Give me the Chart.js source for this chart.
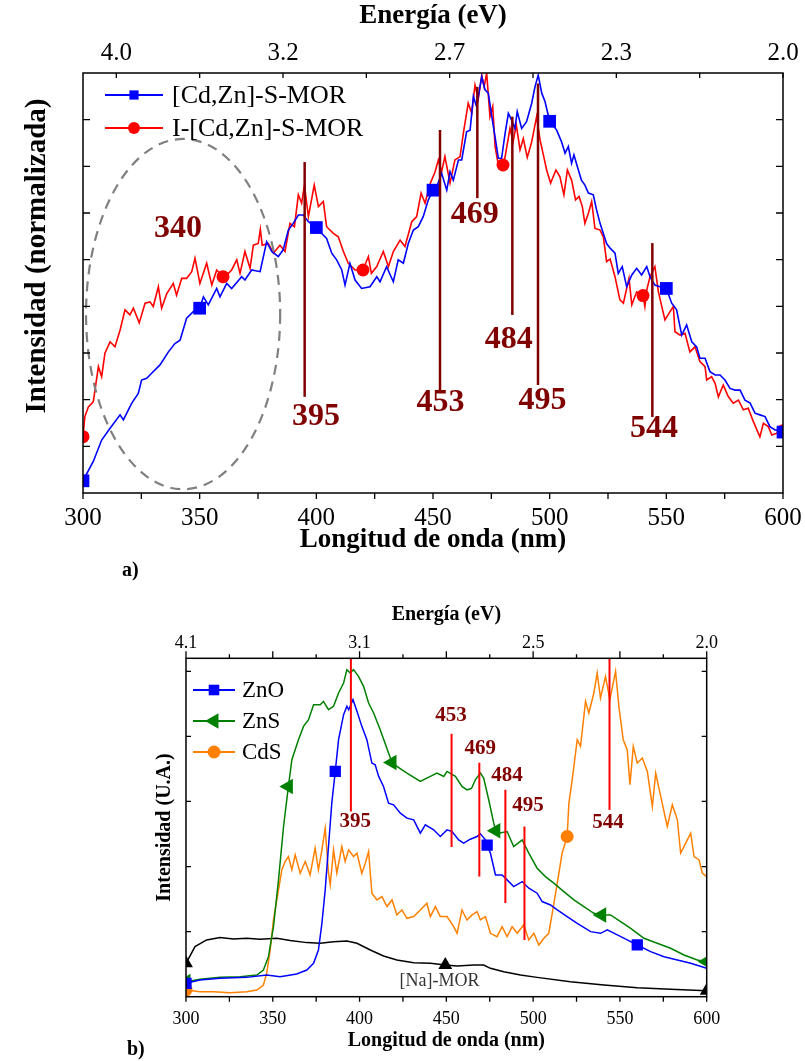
<!DOCTYPE html>
<html lang="es">
<head>
<meta charset="UTF-8">
<title>Fotoluminiscencia</title>
<script src="https://cdn.jsdelivr.net/npm/chart.js@4.4.1/dist/chart.umd.min.js"></script>
<style>
  body { margin:0; background:#fff; width:805px; height:1061px; position:relative; overflow:hidden;
         font-family:'Liberation Serif','Times New Roman',serif; }
  canvas { position:absolute; left:0; }
  #chartA { top:0; }
  #chartB { top:590px; }
  .tag { position:absolute; font-weight:bold; font-size:20px; color:#000; }
</style>
</head>
<body>
<canvas id="chartA" width="805" height="560"></canvas>
<canvas id="chartB" width="805" height="465"></canvas>
<div class="tag" style="left:122px;top:558px">a)</div>
<div class="tag" style="left:127px;top:1037px">b)</div>
<script>
const SERIF = "'Liberation Serif', 'Times New Roman', serif";

// ---------- panel a: [Cd,Zn]-S-MOR vs I-[Cd,Zn]-S-MOR ----------
const aBlueNm = [300,304.4,308,311.6,315.9,317.3,320.9,323.7,325.1,327.3,329.4,333,336.6,339.4,341.6,344.4,348,350,351.6,353.7,357.3,358.7,361.6,363.7,368,369.4,372.3,375.9,378.7,380.9,383.7,385.8,388,390.1,392.3,394.4,396.6,400,402.3,404.4,406.6,408.7,410.9,412.3,414.4,416.6,419.4,423,425.9,427.3,430.1,433,435.1,437.3,439.4,441.6,443.7,445.8,448,450,451.6,453.7,455.9,457.3,458.7,460.9,462.3,464.4,465.9,467.3,468.7,469.9,470.9,472.3,473.7,475.2,476.6,478,479.4,480.9,482.3,483.7,485.1,486.1,488,490.1,492.3,493.7,495.1,496.6,498,500,503,505.1,506.6,508,509.4,510.4,512.3,513.6,515.1,516.6,518.7,520.1,521.6,523,524.4,525.9,528,529.4,531.1,533,535.2,537.3,539.4,541.6,543,545.1,547.3,550,552.3,554.4,556.6,558.7,560.9,563,564.4,566.6,568.7,570.9,573,575.1,577.3,579.4,581.6,583.7,585.9,588,590.1,592.3,594.4,596.6,598.7,600];
const aBlueVal = [0.029,0.075,0.126,0.154,0.186,0.174,0.214,0.237,0.269,0.273,0.285,0.305,0.336,0.356,0.364,0.416,0.436,0.44,0.467,0.448,0.487,0.467,0.499,0.487,0.515,0.507,0.531,0.527,0.598,0.575,0.563,0.579,0.626,0.642,0.662,0.662,0.646,0.632,0.618,0.606,0.571,0.555,0.531,0.495,0.547,0.507,0.487,0.491,0.515,0.503,0.539,0.503,0.555,0.547,0.594,0.626,0.634,0.658,0.698,0.721,0.729,0.761,0.721,0.765,0.745,0.793,0.793,0.86,0.864,0.944,0.92,0.96,0.991,0.96,0.952,0.896,0.848,0.797,0.797,0.856,0.904,0.888,0.868,0.908,0.868,0.884,0.928,0.967,0.995,0.952,0.932,0.885,0.864,0.836,0.809,0.825,0.785,0.805,0.769,0.745,0.733,0.714,0.71,0.674,0.642,0.618,0.594,0.583,0.571,0.523,0.539,0.491,0.519,0.535,0.519,0.539,0.515,0.495,0.491,0.487,0.452,0.436,0.376,0.4,0.36,0.348,0.321,0.321,0.289,0.281,0.281,0.269,0.249,0.245,0.245,0.221,0.214,0.19,0.186,0.182,0.158,0.15,0.15,0.145];
const aRedNm = [300,300.8,302.3,304.4,306.6,308,309.4,311.6,313.7,315.9,318,320.1,321.6,324.1,326.6,328.7,330.1,332.3,333.7,335.9,338.7,340.1,342.3,344.4,346.6,348,350.1,353,355.2,357.3,360,361.6,363.7,365.9,367.3,369.4,371.6,373,375.1,376,376.8,379.4,381.6,384.4,386.6,388.7,390.6,392.3,393.7,394.9,396.6,399.1,400.9,403,404.4,407.3,409.4,411.6,413.7,416.6,420,422.3,423.6,425.9,428.7,430.9,433,435.9,438,440.9,443,444.9,446.6,448.7,450.9,452.3,453.7,455.1,457.3,459.4,461.6,463,465.1,466.6,468,469.4,470.9,471.9,473,474.4,475.6,476.6,478,480,480.9,483,484.3,485.7,487.3,488.7,490.4,492.3,494.4,495.9,497.3,498.7,500.4,502.7,504.4,506.1,507.6,509.4,511.1,512.6,514,515.1,516.6,518,519.4,521.6,523,524.4,525.9,528,530.1,531.6,533,534,535.2,537.3,540,540.8,541.6,543,545.1,546.6,549.4,551.6,553,553.7,555.9,558,560.1,562.3,564.4,566.6,567.3,569.4,570.9,572.3,574.4,576.6,578.7,580.9,583,585.1,587.3,590.1,591.6,593.7,595.2,597.3,600];
const aRedVal = [0.134,0.182,0.205,0.217,0.301,0.277,0.333,0.36,0.348,0.388,0.436,0.424,0.44,0.405,0.452,0.455,0.444,0.491,0.44,0.475,0.499,0.471,0.511,0.511,0.527,0.559,0.499,0.547,0.495,0.531,0.515,0.519,0.531,0.555,0.523,0.575,0.535,0.59,0.594,0.628,0.59,0.594,0.571,0.59,0.575,0.642,0.634,0.71,0.69,0.733,0.658,0.733,0.682,0.694,0.634,0.618,0.61,0.575,0.547,0.531,0.531,0.563,0.523,0.539,0.575,0.539,0.575,0.602,0.587,0.646,0.658,0.714,0.69,0.735,0.765,0.793,0.765,0.801,0.738,0.793,0.801,0.856,0.928,0.904,0.971,0.938,0.995,0.967,1.0,0.896,0.92,0.825,0.781,0.781,0.801,0.868,0.836,0.876,0.817,0.844,0.799,0.836,0.896,0.84,0.805,0.769,0.738,0.769,0.753,0.71,0.769,0.745,0.698,0.706,0.682,0.642,0.666,0.694,0.63,0.626,0.61,0.551,0.557,0.515,0.46,0.452,0.487,0.511,0.448,0.479,0.47,0.444,0.483,0.515,0.539,0.479,0.412,0.432,0.444,0.384,0.376,0.38,0.336,0.348,0.313,0.301,0.269,0.277,0.261,0.229,0.257,0.229,0.214,0.221,0.198,0.202,0.17,0.134,0.166,0.158,0.138,0.142,0.148];
const aBlueMarks = [300,350,400,450,500,550,600];
const aRedMarks = [300,360,420,480,540,600];
const aEnergyPos = [0,1,2,3,4,5,6,7,8];
const aEnergyLabels = ['4.0','','3.2','','2.7','','2.3','','2.0'];
const aPeakNm = [395,453,469,484,495,544];
const aPeakTop = [0.788,0.864,0.967,0.896,0.975,0.595];
const aPeakBottom = [0.229,0.245,0.702,0.424,0.257,0.181];
const aLabelText = ['340','395','453','469','484','495','544'];
const aLabelNm = [340.7,399.9,453.2,467.9,482.5,496.9,544.7];
const aLabelVal = [0.629,0.182,0.214,0.662,0.364,0.219,0.153];

// ---------- panel b: ZnO, ZnS, CdS, [Na]-MOR ----------
const bZnONm = [300,308,319.6,335,346.5,354.2,363.8,369.6,373.5,376.3,378.3,380.2,382.1,384,386,387.9,390.8,392.7,393.7,396.2,398.5,401.3,404.2,407.1,409,411,413.8,416.7,419.6,423.5,427.3,431.2,435,437.9,442.7,446.5,450.4,453.3,457.1,460,463.8,467.7,469.6,472.5,473.5,475.4,478.3,482.1,485,488.8,493.7,497.5,502.3,505.2,510,513.9,519.6,525.4,533.1,538.9,542.7,548.5,554.2,560,567.7,575.4,583.1,590.8,600];
const bZnOVal = [0.205,0.256,0.282,0.297,0.333,0.308,0.349,0.41,0.513,0.718,1.128,1.641,2.308,2.974,3.462,3.949,4.333,4.462,4.41,4.564,4.385,4.154,3.949,3.59,3.564,3.385,3.231,2.974,2.949,2.821,2.744,2.718,2.513,2.641,2.564,2.462,2.564,2.538,2.41,2.359,2.42,2.462,2.503,2.41,2.33,2.205,1.872,1.872,1.795,1.692,1.769,1.667,1.59,1.462,1.41,1.333,1.231,1.128,1.0,0.974,1.026,0.949,0.872,0.795,0.692,0.615,0.564,0.513,0.436];
const bZnSNm = [300,308,319.6,331.2,340.8,344.6,347.5,350.4,353.3,356.2,359,361,362.9,364.8,367.7,370.6,373.5,377.3,379.2,382.1,385,387.9,390.8,392.7,394.6,396.5,399.4,402.3,405.2,408.1,411.9,416.7,418.7,421.5,427.3,435,440.8,444.6,448.5,450.4,455.2,459,461.9,464.5,466.7,469.6,471.5,474.4,477.3,478.5,480.2,485,488.8,493.7,497.5,502.3,507.1,511.9,517.7,523.5,529.2,535,539.5,544.6,550.4,556.2,563.9,571.5,579.2,586.9,594.6,600];
const bZnSVal = [0.231,0.267,0.297,0.308,0.333,0.41,0.615,1.077,1.795,2.615,3.231,3.641,3.795,3.949,4.154,4.256,4.487,4.487,4.538,4.41,4.462,4.667,4.821,5.026,4.974,5.026,4.923,4.769,4.513,4.359,4.103,3.744,3.6,3.538,3.436,3.308,3.385,3.436,3.385,3.462,3.385,3.231,3.179,3.2,3.333,3.436,3.359,3.026,2.667,2.55,2.513,2.538,2.308,2.41,2.205,1.974,1.846,1.744,1.615,1.487,1.385,1.282,1.256,1.256,1.154,1.051,0.897,0.821,0.744,0.641,0.564,0.538];
const bCdSNm = [300,308,315.8,325.4,335,340.8,344.6,346.5,348.5,350.4,353.3,355.2,357.1,359,361,362.9,365.8,368.7,371.5,374.4,376.3,378.3,380.2,382.1,383.1,385,386.9,389.8,391.7,393.7,396.5,398.5,401.3,403.3,405.2,407.1,410,412.9,415.8,418.7,421.5,424.4,427.3,431.2,435,438.8,440.8,443.7,446.5,450.4,454.2,456.2,459,461.9,464.5,467.7,469.6,472.5,475.4,479.2,482.1,485,487.9,490.8,494.6,497.5,500.4,503.3,506.2,509,511,513.9,516.7,519.6,520.6,522.5,525.4,527.3,530.2,532.1,535,536.9,538.8,541.7,544.2,547.5,549.4,551.9,554.2,555.8,557.7,560,562.9,565.8,568.7,570.6,573.5,577.3,580.2,583.1,585,587.9,590.8,592.7,595.6,597.5,600];
const bCdSVal = [0.103,0.077,0.077,0.062,0.077,0.103,0.179,0.359,0.718,1.179,1.641,1.949,2.077,2.154,1.949,2.179,1.897,2.077,1.872,2.282,1.949,2.256,2.59,1.897,1.718,2.256,1.897,2.308,2.077,2.256,2.154,2.205,1.897,2.051,2.231,1.59,1.487,1.538,1.385,1.487,1.256,1.333,1.205,1.231,1.333,1.436,1.231,1.385,1.231,1.231,1.077,0.974,1.333,1.179,1.25,1.308,1.179,1.231,0.974,0.923,1.077,0.923,1.077,0.974,1.103,0.872,0.974,0.795,0.897,0.974,1.282,1.744,2.205,2.462,2.974,3.333,3.949,3.846,4.538,4.359,4.667,4.974,4.59,4.923,4.564,5.0,4.462,3.949,3.795,3.256,3.846,3.59,3.667,3.462,2.923,3.436,3.077,2.615,2.949,2.718,2.205,2.359,2.513,2.154,2.103,1.897,1.846];
const bNaNm = [300,305.2,311.9,319.6,327.3,335,342.7,352.3,360,369.6,377.3,385,392.7,398.5,406.2,413.8,421.5,431.2,440.8,449.4,456.2,465.8,471.5,475.4,483.1,492.7,502.3,521.5,540.8,560,579.2,600];
const bNaVal = [0.513,0.769,0.872,0.908,0.887,0.897,0.882,0.897,0.862,0.831,0.821,0.846,0.856,0.821,0.718,0.626,0.564,0.523,0.513,0.487,0.472,0.487,0.487,0.436,0.385,0.333,0.297,0.231,0.179,0.138,0.113,0.09];
const bZnOMarks = [300,386,473.5,560];
const bZnSMarks = [300,359,418.7,478.5,539.5,600];
const bCdSMarks = [300,519.6];
const bNaMarks = [300,449.4,600];
const bEnergyNm = [300,400,500,600];
const bEnergyLabels = ['4.1','3.1','2.5','2.0'];
const bPeakNm = [395,453,469,484,495,544];
const bPeakTop = [5.2,4.04,3.595,3.18,2.615,5.2];
const bPeakBottom = [2.846,2.30,1.846,1.44,0.872,2.87];
const bLabelText = ['395','453','469','484','495','544'];
const bLabelNm = [397.5,452.7,469.6,485,497,543.2];
const bLabelVal = [2.69,4.32,3.81,3.40,2.94,2.68];

function pts(nm, val) { return nm.map((v, i) => ({x: v, y: val[i]})); }

function mark(ctx, style, x, y, r, rot) {
  ctx.beginPath();
  if (style === 'rect') {
    const s = r * Math.SQRT1_2;
    ctx.rect(x - s, y - s, 2 * s, 2 * s);
  } else if (style === 'circle') {
    ctx.arc(x, y, r, 0, Math.PI * 2);
  } else {
    let a = (rot || 0) * Math.PI / 180;
    for (let k = 0; k < 3; k++) {
      const px = x + Math.sin(a) * r, py = y - Math.cos(a) * r;
      k === 0 ? ctx.moveTo(px, py) : ctx.lineTo(px, py);
      a += Math.PI * 2 / 3;
    }
    ctx.closePath();
  }
  ctx.fill();
}

// frame, tick marks, peak lines, labels and legend
function makeDecor(o) {
  return {
    id: 'decor',
    afterDatasetsDraw(chart) {
      const ctx = chart.ctx, ca = chart.chartArea;
      const xs = chart.scales.x, ys = chart.scales.y;
      ctx.save();
      if (o.ellipse) {
        const e = o.ellipse;
        const cx = xs.getPixelForValue(e.nm), cy = ys.getPixelForValue(e.val);
        const rx = xs.getPixelForValue(e.nm + e.dnm) - cx, ry = cy - ys.getPixelForValue(e.val + e.dval);
        ctx.strokeStyle = '#808080'; ctx.lineWidth = 2.2; ctx.setLineDash([10, 7]);
        ctx.beginPath(); ctx.ellipse(cx, cy, rx, ry, 0, 0, Math.PI * 2); ctx.stroke();
        ctx.setLineDash([]);
      }
      ctx.strokeStyle = o.lineColor; ctx.lineWidth = o.lineWidth;
      o.peaks.forEach((p, i) => {
        const px = xs.getPixelForValue(p);
        ctx.beginPath();
        ctx.moveTo(px, Math.max(ys.getPixelForValue(o.top[i]), ca.top));
        ctx.lineTo(px, ys.getPixelForValue(o.bottom[i]));
        ctx.stroke();
      });
      ctx.fillStyle = '#800000'; ctx.font = o.labelFont;
      ctx.textAlign = 'center'; ctx.textBaseline = 'middle';
      o.labels.forEach((t, i) => ctx.fillText(t, xs.getPixelForValue(o.labelNm[i]), ys.getPixelForValue(o.labelVal[i])));
      (o.notes || []).forEach(n => {
        ctx.fillStyle = n.color; ctx.font = n.font;
        ctx.fillText(n.text, xs.getPixelForValue(n.nm), ys.getPixelForValue(n.val));
      });

      // y title drawn here when it sits off the axis centre
      if (o.yTitle) {
        const t = o.yTitle;
        ctx.save();
        ctx.translate(t.x, t.y); ctx.rotate(-Math.PI / 2);
        ctx.fillStyle = '#000'; ctx.font = t.font;
        ctx.fillText(t.text, 0, 0);
        ctx.restore();
      }

      // frame
      ctx.strokeStyle = '#000'; ctx.lineWidth = 1.5;
      ctx.strokeRect(ca.left, ca.top, ca.right - ca.left, ca.bottom - ca.top);
      ctx.lineWidth = 1.3;
      ctx.beginPath();
      o.bottomTicks.forEach(v => {
        const px = xs.getPixelForValue(v);
        ctx.moveTo(px, ca.bottom); ctx.lineTo(px, ca.bottom + o.bottomLen);
      });
      const ts = chart.scales.x2;
      o.topTicks.forEach((v, i) => {
        const px = ts.getPixelForValue(v);
        const len = o.topLen[i % o.topLen.length];
        ctx.moveTo(px, ca.top); ctx.lineTo(px, ca.top + (o.topIn ? len : -len));
      });
      o.yTicks.forEach(v => {
        const py = ys.getPixelForValue(v);
        ctx.moveTo(ca.left, py); ctx.lineTo(ca.left + o.yLen, py);
        ctx.moveTo(ca.right, py); ctx.lineTo(ca.right - o.yLen, py);
      });
      ctx.stroke();

      // legend
      const L = o.legend;
      ctx.font = L.font; ctx.textAlign = 'left'; ctx.textBaseline = 'middle';
      L.items.forEach(it => {
        ctx.strokeStyle = it.color; ctx.fillStyle = it.color; ctx.lineWidth = 1.8;
        ctx.beginPath(); ctx.moveTo(L.x0, it.y); ctx.lineTo(L.x1, it.y); ctx.stroke();
        mark(ctx, it.style, (L.x0 + L.x1) / 2, it.y, it.r, it.rot);
        ctx.fillStyle = '#000';
        ctx.fillText(it.text, L.tx, it.y + 1);
      });
      ctx.restore();
    }
  };
}

function markRadius(nm, marks, r) {
  return c => marks.includes(nm[c.dataIndex]) ? r : 0;
}

// keep edge labels from shrinking the plot area
function fixX(h) {
  return s => { s.height = h; s.paddingLeft = 0; s.paddingRight = 0; };
}

const ticks25 = [];
for (let v = 300; v <= 600; v += 25) ticks25.push(v);

// ----- chart a -----
new Chart(document.getElementById('chartA'), {
  type: 'line',
  data: {
    datasets: [
      { label: '[Cd,Zn]-S-MOR', data: pts(aBlueNm, aBlueVal), borderColor: '#0000ff', backgroundColor: '#0000ff',
        borderWidth: 1.6, tension: 0, pointStyle: 'rect', pointBorderWidth: 0,
        pointRadius: markRadius(aBlueNm, aBlueMarks, 9) },
      { label: 'I-[Cd,Zn]-S-MOR', data: pts(aRedNm, aRedVal), borderColor: '#ff0000', backgroundColor: '#ff0000',
        borderWidth: 1.6, tension: 0, pointStyle: 'circle', pointBorderWidth: 0,
        pointRadius: markRadius(aRedNm, aRedMarks, 6.5) }
    ]
  },
  options: {
    responsive: false, animation: false, devicePixelRatio: 1,
    layout: { padding: { left: 0, right: 22, top: 0, bottom: 0 } },
    plugins: { legend: { display: false }, tooltip: { enabled: false } },
    scales: {
      x: {
        type: 'linear', position: 'bottom', min: 300, max: 600,
        afterFit: fixX(67),
        grid: { display: false, drawTicks: false }, border: { display: false },
        ticks: { stepSize: 50, autoSkip: false, maxRotation: 0, padding: 10, color: '#000',
                 font: { family: SERIF, size: 25 } },
        title: { display: true, text: 'Longitud de onda (nm)', color: '#000',
                 font: { family: SERIF, size: 27, weight: 'bold' }, padding: { top: 0, bottom: 4 } }
      },
      x2: {
        type: 'linear', position: 'top', min: -0.4, max: 8,
        afterFit: fixX(73),
        afterBuildTicks: s => { s.ticks = aEnergyPos.map(v => ({ value: v })); },
        grid: { display: false, drawTicks: false }, border: { display: false },
        ticks: { autoSkip: false, maxRotation: 0, padding: 5, color: '#000',
                 font: { family: SERIF, size: 25 },
                 callback: v => aEnergyLabels[aEnergyPos.indexOf(v)] },
        title: { display: true, text: 'Energía (eV)', color: '#000',
                 font: { family: SERIF, size: 27, weight: 'bold' }, padding: { top: 0, bottom: 0 } }
      },
      y: {
        min: 0, max: 1,
        afterFit: s => { s.width = 83; },
        grid: { display: false, drawTicks: false }, border: { display: false },
        ticks: { display: false },
        title: { display: false }
      }
    }
  },
  plugins: [makeDecor({
    ellipse: { nm: 342.9, val: 0.426, dnm: 41.6, dval: 0.417 },
    peaks: aPeakNm, top: aPeakTop, bottom: aPeakBottom, lineColor: '#800000', lineWidth: 2.5,
    labels: aLabelText, labelNm: aLabelNm, labelVal: aLabelVal, labelFont: 'bold 32px ' + SERIF,
    yTitle: { text: 'Intensidad (normalizada)', x: 38, y: 256, font: 'bold 29px ' + SERIF },
    bottomTicks: ticks25, bottomLen: 6,
    topTicks: aEnergyPos, topLen: [5], topIn: true,
    yTicks: [1/9, 2/9, 3/9, 4/9, 5/9, 6/9, 7/9, 8/9], yLen: 7,
    legend: {
      font: '26px ' + SERIF, x0: 105, x1: 163, tx: 172,
      items: [
        { text: '[Cd,Zn]-S-MOR', color: '#0000ff', style: 'rect', r: 6.5, y: 95 },
        { text: 'I-[Cd,Zn]-S-MOR', color: '#ff0000', style: 'circle', r: 6, y: 128 }
      ]
    }
  })]
});

// ----- chart b -----
new Chart(document.getElementById('chartB'), {
  type: 'line',
  data: {
    datasets: [
      { label: 'ZnO', data: pts(bZnONm, bZnOVal), borderColor: '#0000ff', backgroundColor: '#0000ff',
        borderWidth: 1.5, tension: 0, pointStyle: 'rect', pointBorderWidth: 0,
        pointRadius: markRadius(bZnONm, bZnOMarks, 8) },
      { label: 'ZnS', data: pts(bZnSNm, bZnSVal), borderColor: '#008000', backgroundColor: '#008000',
        borderWidth: 1.5, tension: 0, pointStyle: 'triangle', pointRotation: -90, pointBorderWidth: 0,
        pointRadius: markRadius(bZnSNm, bZnSMarks, 9) },
      { label: 'CdS', data: pts(bCdSNm, bCdSVal), borderColor: '#ff8000', backgroundColor: '#ff8000',
        borderWidth: 1.5, tension: 0, pointStyle: 'circle', pointBorderWidth: 0,
        pointRadius: markRadius(bCdSNm, bCdSMarks, 6.5) },
      { label: '[Na]-MOR', data: pts(bNaNm, bNaVal), borderColor: '#000000', backgroundColor: '#000000',
        borderWidth: 1.5, tension: 0, pointStyle: 'triangle', pointBorderWidth: 0,
        pointRadius: markRadius(bNaNm, bNaMarks, 8) }
    ]
  },
  options: {
    responsive: false, animation: false, devicePixelRatio: 1,
    layout: { padding: { left: 0, right: 98.3, top: 0, bottom: 0 } },
    plugins: { legend: { display: false }, tooltip: { enabled: false } },
    scales: {
      x: {
        type: 'linear', position: 'bottom', min: 300, max: 600,
        afterFit: fixX(58.3),
        grid: { display: false, drawTicks: false }, border: { display: false },
        ticks: { stepSize: 50, autoSkip: false, maxRotation: 0, padding: 12, color: '#000',
                 font: { family: SERIF, size: 18 } },
        title: { display: true, text: 'Longitud de onda (nm)', color: '#000',
                 font: { family: SERIF, size: 20, weight: 'bold' }, padding: { top: 0, bottom: 2 } }
      },
      x2: {
        type: 'linear', position: 'top', min: 300, max: 600,
        afterFit: fixX(68.3),
        afterBuildTicks: s => { s.ticks = bEnergyNm.map(v => ({ value: v })); },
        grid: { display: false, drawTicks: false }, border: { display: false },
        ticks: { autoSkip: false, maxRotation: 0, padding: 4, color: '#000',
                 font: { family: SERIF, size: 18 },
                 callback: v => bEnergyLabels[bEnergyNm.indexOf(v)] },
        title: { display: true, text: 'Energía (eV)', color: '#000',
                 font: { family: SERIF, size: 20, weight: 'bold' }, padding: { top: 13, bottom: 0 } }
      },
      y: {
        min: 0, max: 5.2,
        afterFit: s => { s.width = 186; },
        grid: { display: false, drawTicks: false }, border: { display: false },
        ticks: { display: false },
        title: { display: true, text: 'Intensidad (U.A.)', color: '#000',
                 font: { family: SERIF, size: 20, weight: 'bold' }, padding: { top: 153, bottom: 0 } }
      }
    }
  },
  plugins: [makeDecor({
    peaks: bPeakNm, top: bPeakTop, bottom: bPeakBottom, lineColor: '#ff0000', lineWidth: 2,
    labels: bLabelText, labelNm: bLabelNm, labelVal: bLabelVal, labelFont: 'bold 21px ' + SERIF,
    notes: [{ text: '[Na]-MOR', nm: 446, val: 0.24, color: '#333', font: '18px ' + SERIF }],
    bottomTicks: ticks25, bottomLen: 5,
    topTicks: ticks25, topLen: [7, 4], topIn: false,
    yTicks: [1, 2, 3, 4, 5], yLen: 5,
    legend: {
      font: '23px ' + SERIF, x0: 193, x1: 235, tx: 242,
      items: [
        { text: 'ZnO', color: '#0000ff', style: 'rect', r: 7.5, y: 100 },
        { text: 'ZnS', color: '#008000', style: 'triangle', r: 9, rot: -90, y: 131 },
        { text: 'CdS', color: '#ff8000', style: 'circle', r: 6.5, y: 162 }
      ]
    }
  })]
});
</script>
</body>
</html>
